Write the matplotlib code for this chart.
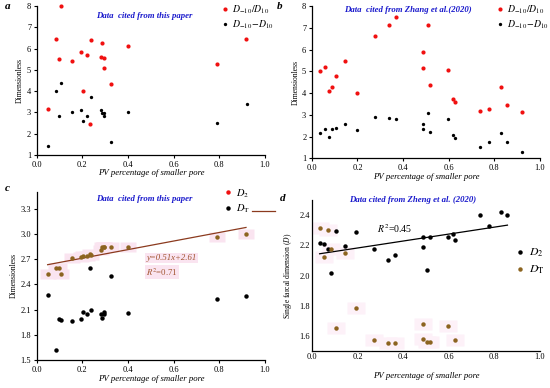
import numpy as np
import matplotlib
matplotlib.use("Agg")
import matplotlib.pyplot as plt
from matplotlib.lines import Line2D

plt.rcParams['font.family'] = ['Liberation Serif', 'DejaVu Serif']
plt.rcParams['mathtext.fontset'] = 'stix'

# panel a: this paper
a_rx = [0.105, 0.085, 0.099, 0.156, 0.194, 0.220, 0.238, 0.285, 0.283, 0.295, 0.293, 0.324, 0.401, 0.201, 0.048, 0.232, 0.917, 0.790]
a_ry = [8.0, 6.45, 5.50, 5.43, 5.85, 5.71, 6.40, 6.25, 5.62, 5.57, 5.07, 4.34, 6.12, 4.02, 3.16, 2.46, 6.45, 5.29]
a_bx = [0.085, 0.105, 0.099, 0.156, 0.194, 0.201, 0.220, 0.238, 0.283, 0.285, 0.295, 0.293, 0.324, 0.401, 0.048, 0.920, 0.790]
a_by = [4.02, 4.40, 2.83, 3.04, 3.10, 2.61, 2.82, 3.74, 3.11, 2.99, 2.96, 2.83, 1.63, 3.01, 1.44, 3.38, 2.49]

# panel b: Zhang et al.(2020)
b_x = [0.036, 0.058, 0.077, 0.088, 0.107, 0.146, 0.197, 0.277, 0.339, 0.368, 0.489,
       0.489, 0.508, 0.518, 0.599, 0.620, 0.628, 0.737, 0.778, 0.829, 0.858, 0.920]
b_red = [5.01, 5.18, 4.08, 4.29, 4.78, 5.46, 4.02, 6.64, 7.11, 7.48, 5.90,
         5.15, 7.14, 4.37, 5.06, 3.74, 3.59, 3.19, 3.28, 4.26, 3.45, 3.15]
b_blk = [2.15, 2.33, 2.00, 2.36, 2.41, 2.58, 2.30, 2.90, 2.85, 2.82, 2.58,
         2.35, 3.08, 2.21, 2.79, 2.07, 1.95, 1.51, 1.75, 2.17, 1.75, 1.29]

# panel c: this paper, D2 and DT
c_x = [0.048, 0.085, 0.099, 0.105, 0.156, 0.194, 0.201, 0.220, 0.232, 0.238, 0.283, 0.285, 0.293, 0.295, 0.324, 0.401, 0.790, 0.917]
c_d2 = [2.52, 2.59, 2.59, 2.52, 2.71, 2.73, 2.74, 2.74, 2.76, 2.75, 2.81, 2.85, 2.84, 2.85, 2.85, 2.85, 2.97, 3.00]
c_dt = [2.27, 1.62, 1.99, 1.98, 1.97, 1.99, 2.07, 2.05, 2.595, 2.10, 2.05, 2.00, 2.05, 2.07, 2.50, 2.06, 2.23, 2.26]
c_slope, c_icpt = 0.51, 2.61

# panel d: Zheng et al. (2020)
d_x = [0.034, 0.055, 0.073, 0.083, 0.105, 0.146, 0.194, 0.274, 0.336, 0.365, 0.486,
       0.486, 0.507, 0.517, 0.596, 0.618, 0.628, 0.739, 0.778, 0.829, 0.858]
d_d2 = [2.218, 2.207, 2.176, 2.016, 2.297, 2.196, 2.286, 2.176, 2.106, 2.137, 2.187,
        2.253, 2.036, 2.255, 2.255, 2.275, 2.236, 2.404, 2.328, 2.418, 2.404]
d_tx = [0.034, 0.073, 0.083, 0.055, 0.146, 0.194, 0.105, 0.274, 0.336, 0.365, 0.486, 0.486, 0.507, 0.517, 0.596, 0.628]
d_ty = [2.313, 2.302, 2.176, 2.120, 2.146, 1.786, 1.650, 1.571, 1.550, 1.550, 1.681, 1.580, 1.560, 1.560, 1.667, 1.571]

RED = '#f01010'
BROWN = '#8c6420'
PINK = '#fae4f0'
PINK2 = '#fdf1f8'
BLUE = '#1a1acc'
rect = [(-1.6, -1), (1.6, -1), (1.6, 1), (-1.6, 1), (-1.6, -1)]

fig = plt.figure(figsize=(5.5, 3.88), dpi=100)
ax_a = fig.add_axes([0.0667, 0.6005, 0.415, 0.384])
ax_b = fig.add_axes([0.567, 0.592, 0.4145, 0.3925])
ax_c = fig.add_axes([0.0667, 0.0722, 0.415, 0.433])
ax_d = fig.add_axes([0.567, 0.0954, 0.4145, 0.389])

xl = 'PV percentage of smaller pore'
for ax in (ax_a, ax_b, ax_c, ax_d):
    for s in ('top', 'right'):
        ax.spines[s].set_visible(False)
    ax.spines['left'].set_linewidth(0.9)
    ax.spines['bottom'].set_linewidth(0.9)
    ax.tick_params(direction='out', length=2.5, width=0.8, labelsize=6, pad=1.5)
    ax.set_xlim(0, 1.0)
    ax.set_xticks(np.arange(0, 1.01, 0.2))
    ax.xaxis.set_major_formatter(matplotlib.ticker.FormatStrFormatter('%.1f'))

def title(ax, txt, x, y):
    ax.text(x, y, txt, transform=ax.transAxes, color=BLUE, fontsize=6.3,
            fontweight='bold', style='italic', ha='center', va='center')

def panel(ax, s, x, y):
    ax.text(x, y, s, transform=ax.transAxes, fontsize=8, fontweight='bold',
            style='italic', ha='left', va='center')

leg_kw = dict(loc='upper left', frameon=False, fontsize=7, handletextpad=0.2,
              handlelength=1.1, borderpad=0, labelspacing=0.25)

# a
ax_a.plot(a_rx, a_ry, 'o', color=RED, ms=3, mec='none', clip_on=False, label=r'$D_{-10}/D_{10}$')
ax_a.plot(a_bx, a_by, 'o', color='black', ms=2.4, mec='none', clip_on=False, label=r'$D_{-10}\!-\!D_{10}$')
ax_a.set_ylim(1, 8)
ax_a.set_yticks(range(1, 9))
ax_a.set_ylabel('Dimensionless', fontsize=5.5, labelpad=2)
ax_a.set_xlabel(xl, fontsize=6.3, style='italic', labelpad=0)
title(ax_a, 'Data  cited from this paper', 0.47, 0.935)
panel(ax_a, 'a', -0.14, 1.0)
ax_a.legend(bbox_to_anchor=(0.78, 1.05), **leg_kw)

# b
ax_b.plot(b_x, b_red, 'o', color=RED, ms=3, mec='none', label=r'$D_{-10}/D_{10}$')
ax_b.plot(b_x, b_blk, 'o', color='black', ms=2.4, mec='none', label=r'$D_{-10}\!-\!D_{10}$')
ax_b.set_ylim(1, 8)
ax_b.set_yticks(range(1, 9))
ax_b.set_ylabel('Dimensionless', fontsize=5.5, labelpad=2)
ax_b.set_xlabel(xl, fontsize=6.3, style='italic', labelpad=0.5)
title(ax_b, 'Data  cited from Zhang et al.(2020)', 0.42, 0.975)
panel(ax_b, 'b', -0.155, 1.0)
ax_b.legend(bbox_to_anchor=(0.78, 1.05), **leg_kw)

# c
ax_c.plot(c_x, c_d2, marker=rect, ls='none', color=PINK, ms=12, mec='none', zorder=1)
ax_c.plot(c_x, c_d2, 'o', color=BROWN, ms=3.2, mec='none', zorder=3)
ax_c.plot(c_x, c_dt, 'o', color='black', ms=3.2, mec='none', zorder=3)
fx = np.array([min(c_x), max(c_x)])
ax_c.plot(fx, c_slope * fx + c_icpt, color='#8b3a1e', lw=0.9, zorder=2)
ax_c.set_ylim(1.5, 3.5)
ax_c.set_yticks(np.arange(1.5, 3.31, 0.3))
ax_c.yaxis.set_major_formatter(matplotlib.ticker.FormatStrFormatter('%.1f'))
ax_c.set_ylabel('Dimensionless', fontsize=5.5, labelpad=2)
ax_c.set_xlabel(xl, fontsize=6.3, style='italic', labelpad=1)
title(ax_c, 'Data  cited from this paper', 0.47, 0.96)
panel(ax_c, 'c', -0.14, 1.02)
ax_c.text(0.48, 0.607, 'y=0.51x+2.61', transform=ax_c.transAxes, fontsize=6.3, color='#a0522d',
          style='italic', va='center', bbox=dict(fc=PINK, ec='none', pad=0.8))
ax_c.text(0.48, 0.524, r'$R^2$=0.71', transform=ax_c.transAxes, fontsize=6.3, color='#a0522d',
          va='center', bbox=dict(fc=PINK, ec='none', pad=0.8))
hc = [Line2D([], [], marker='o', ls='none', color=RED, ms=3.2, mec='none'),
      Line2D([], [], marker='o', ls='none', color='black', ms=3.2, mec='none')]
ax_c.legend(hc, [r'$D_2$', r'$D_{\rm T}$'], bbox_to_anchor=(0.79, 1.06), **dict(leg_kw, fontsize=7.5))
ax_c.plot([0.945, 1.045], [0.887, 0.887], transform=ax_c.transAxes, color='#8b3a1e', lw=0.9, clip_on=False)

# d
ax_d.plot(d_tx, d_ty, marker=rect, ls='none', color=PINK2, ms=13, mec='none', zorder=1)
ax_d.plot(d_x, d_d2, 'o', color='black', ms=3.2, mec='none', zorder=3, label=r'$D_2$')
ax_d.plot(d_tx, d_ty, 'o', color=BROWN, ms=3.2, mec='none', zorder=3, label=r'$D_{\rm T}$')
k, b0 = np.polyfit(d_x, d_d2, 1)
fx = np.array([min(d_x), max(d_x)])
ax_d.plot(fx, k * fx + b0, color='black', lw=0.9, zorder=2)
ax_d.set_ylim(1.5, 2.5)
ax_d.set_yticks(np.arange(1.6, 2.41, 0.2))
ax_d.yaxis.set_major_formatter(matplotlib.ticker.FormatStrFormatter('%.1f'))
ax_d.tick_params(length=0)
ax_d.set_ylabel('Single farcal dimension ($D$)', fontsize=5.5, labelpad=4)
ax_d.set_xlabel(xl, fontsize=6.3, style='italic', labelpad=8)
title(ax_d, 'Data cited from Zheng et al. (2020)', 0.44, 1.0)
panel(ax_d, 'd', -0.14, 1.01)
ax_d.text(0.285, 0.81, r'$R^2$=0.45', transform=ax_d.transAxes, fontsize=7, va='center')
ax_d.legend(bbox_to_anchor=(0.86, 0.73), **dict(leg_kw, fontsize=8.5, labelspacing=0.4))

fig.savefig('out.png', dpi=100)
